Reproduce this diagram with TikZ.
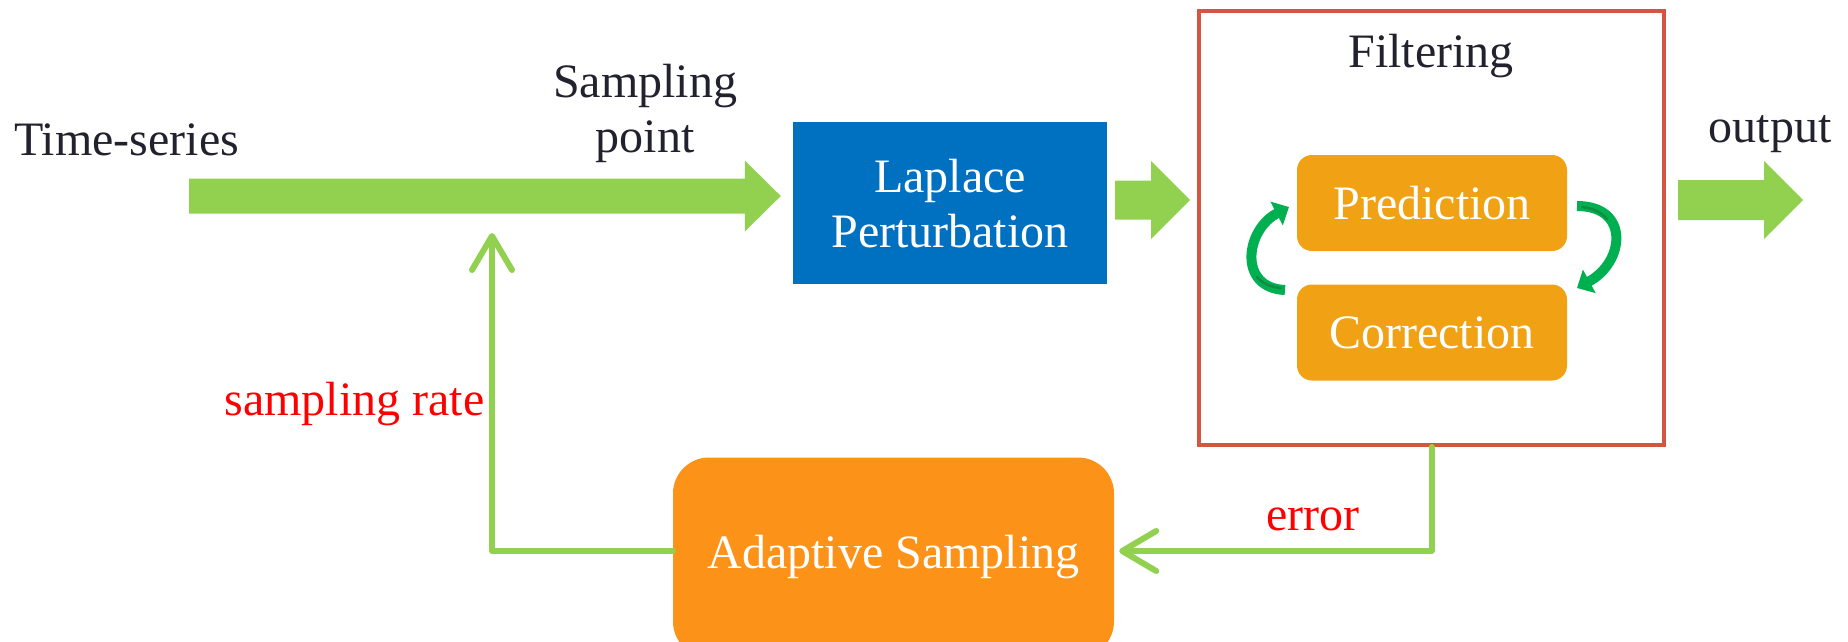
\documentclass[tikz,border=0pt]{standalone}
\usepackage{fontspec}
\setmainfont{Liberation Serif}
\usetikzlibrary{arrows.meta,calc}

\definecolor{flowgreen}{RGB}{146,208,80}
\definecolor{cyclegreen}{RGB}{0,176,80}
\definecolor{cycleshade}{RGB}{18,140,66}
\definecolor{lapblue}{RGB}{0,112,192}
\definecolor{filterred}{RGB}{212,86,64}
\definecolor{steporange}{RGB}{240,161,20}
\definecolor{adaptorange}{RGB}{253,146,24}
\definecolor{inkdark}{RGB}{34,34,46}
\definecolor{labelred}{RGB}{255,0,0}

% wide block arrow from the x of #1 to the tip #2 (horizontal, pointing right)
% #3 half shaft width, #4 half head width, #5 head length
\newcommand\blockarrow[5]{%
  \fill[flowgreen] let \p1=(#1), \p2=(#2) in
    (\x1,\y2+#3) -- (\x2-#5,\y2+#3) -- (\x2-#5,\y2+#4) -- (\x2,\y2)
    -- (\x2-#5,\y2-#4) -- (\x2-#5,\y2-#3) -- (\x1,\y2-#3) -- cycle;}

\begin{document}
\begin{tikzpicture}[x=1pt,y=-1pt,
  font=\fontsize{48}{55}\selectfont,
  plain/.style={text=inkdark,inner sep=0pt},
  redtext/.style={text=labelred,inner sep=0pt},
  bluebox/.style={fill=lapblue,text=white,inner sep=0pt,align=center},
  stepbox/.style={fill=steporange,text=white,inner sep=0pt,rounded corners=15pt,
    minimum width=270pt,minimum height=96pt},
  filterbox/.style={draw=filterred,line width=4pt,inner sep=0pt},
  adaptbox/.style={fill=adaptorange,text=white,inner sep=0pt,rounded corners=36pt},
  feedback/.style={draw=flowgreen,line width=6pt,line cap=round,line join=round,
    -{Straight Barb[length=34pt,width=40pt,round]}},
  cycle arrow/.style={draw=cyclegreen,line width=10pt,
    -{Triangle[length=14pt,width=26pt]}},
  cycle shade/.style={draw=cycleshade,line width=2.5pt,line cap=round}
  ]
\useasboundingbox (0,0) rectangle (1848,641);
\clip (0,0) rectangle (1848,641);

% blocks
\node[bluebox,minimum width=314pt,minimum height=162pt,text depth=0pt] (lap) at (950,203)
  {Laplace\\Perturbation};
\node[filterbox,minimum width=465pt,minimum height=434pt] (filt) at (1431.5,228) {};
\node[stepbox] (pred) at (1432,203) {Prediction};
\node[stepbox] (corr) at (1432,332.5) {Correction};
\node[adaptbox,minimum width=441pt,minimum height=200pt] (adapt) at (893.5,557.5)
  {Adaptive Sampling};

% texts
\node[plain,anchor=base west] (ts) at (14,155) {Time-series};
\node[plain,align=center] (sp) at (645,113) {Sampling\\point};
\node[plain,anchor=base] (ftitle) at (1431,67) {Filtering};
\node[plain,anchor=base] (out) at (1770,142) {output};
\node[redtext,anchor=base] (rate) at (354.5,415) {sampling rate};
\node[redtext,anchor=base] (err) at (1313,530) {error};

% block arrows along the main flow
\coordinate (inStart) at (189,196);
\coordinate (inTip) at ([xshift=-12pt]lap.west |- inStart);
\blockarrow{inStart}{inTip}{17.5pt}{35.5pt}{36pt}
\coordinate (midStart) at ([xshift=8pt]lap.east |- 0,200);
\coordinate (midTip) at ([xshift=-7pt]filt.west |- 0,200);
\blockarrow{midStart}{midTip}{19.5pt}{39pt}{39pt}
\coordinate (outStart) at ([xshift=12pt]filt.east |- 0,200);
\coordinate (outTip) at (1803,200);
\blockarrow{outStart}{outTip}{20pt}{39pt}{39pt}

% feedback loop
\coordinate (fbLevel) at (0,551);
\coordinate (rateTip) at (492,233);
\draw[feedback] (filt.south) -- (filt.south |- fbLevel) -- ([xshift=5pt]adapt.east |- fbLevel);
\draw[feedback] (adapt.west |- fbLevel) -| (rateTip);

% prediction / correction cycle
\coordinate (lTail) at (1285,290);
\coordinate (lHead) at (1289,207);
\coordinate (rTail) at (1577,206);
\coordinate (rHead) at (1577,288);
\draw[cycle arrow] (lTail) .. controls (1238,288) and (1245,230) .. (lHead);
\draw[cycle arrow] (rTail) .. controls (1630,206) and (1625,262) .. (rHead);
% darker streaks on the arrow bodies
\draw[cycle shade] (1281,288) .. controls (1270,287) and (1262,283) .. (1257,277);
\draw[cycle shade] (1582,207) .. controls (1592,208) and (1601,212) .. (1607,219);
\end{tikzpicture}
\end{document}
